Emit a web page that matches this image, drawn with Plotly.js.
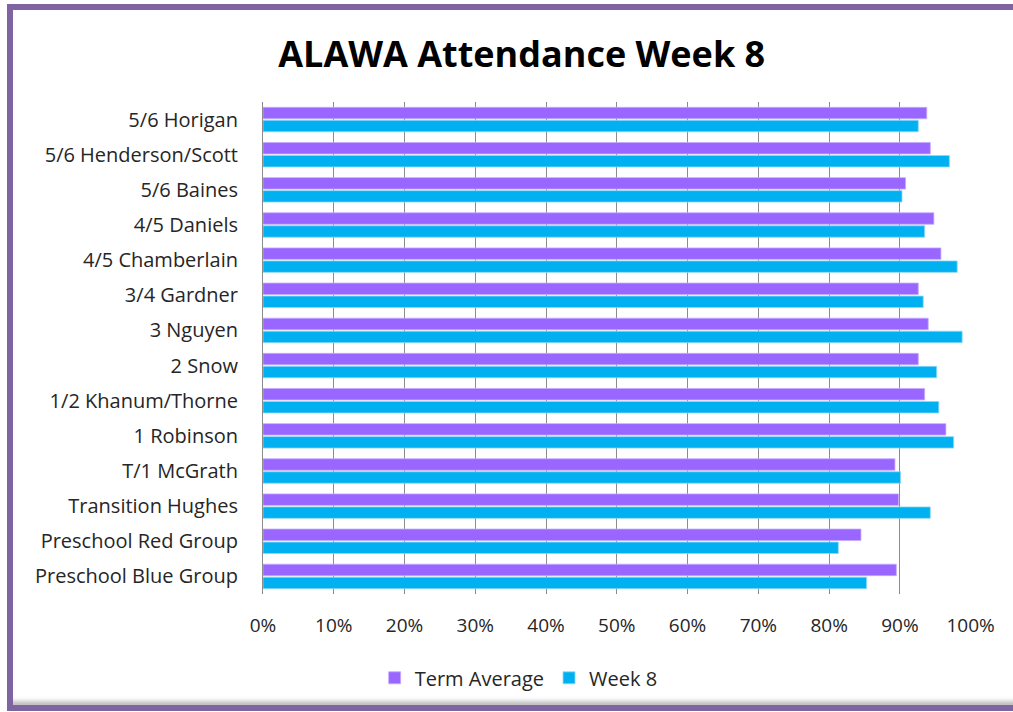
<!DOCTYPE html>
<html>
<head>
<meta charset="utf-8">
<script src="https://cdn.plot.ly/plotly-3.0.1.min.js"></script>
<style>
  html, body { margin: 0; padding: 0; background: #ffffff; overflow: hidden; }
  #chart { position: absolute; left: 0; top: 0; width: 1013px; height: 712px; }
  #frame { position: absolute; left: 7px; top: 4px; width: 1020px; height: 695px;
           border: 6px solid #8064A2; border-right: none; pointer-events: none;
           box-shadow: inset -3px -4px 4px rgba(0,0,0,0.25); }
</style>
</head>
<body>
<div id="chart"></div>
<div id="frame"></div>
<script>
const categories = ["5/6 Horigan","5/6 Henderson/Scott","5/6 Baines","4/5 Daniels","4/5 Chamberlain","3/4 Gardner","3 Nguyen","2 Snow","1/2 Khanum/Thorne","1 Robinson","T/1 McGrath","Transition Hughes","Preschool Red Group","Preschool Blue Group"];
const termAverage = [0.938,0.943,0.908,0.948,0.958,0.926,0.940,0.926,0.935,0.965,0.893,0.898,0.845,0.895];
const week8 = [0.926,0.970,0.903,0.935,0.981,0.933,0.988,0.952,0.955,0.976,0.901,0.943,0.813,0.853];
const xTicks = [0,0.1,0.2,0.3,0.4,0.5,0.6,0.7,0.8,0.9,1.0];
const xTickText = ["0%","10%","20%","30%","40%","50%","60%","70%","80%","90%","100%"];

const font = "Open Sans, Liberation Sans, sans-serif";
const traces = [
  { type: "bar", orientation: "h", name: "Term Average", y: categories, x: termAverage,
    marker: { color: "#9966FF", line: { color: "#C4AAFF", width: 0.8 } }, hoverinfo: "x+y" },
  { type: "bar", orientation: "h", name: "Week 8", y: categories, x: week8,
    marker: { color: "#00B0F0", line: { color: "#8FD8F8", width: 0.8 } }, hoverinfo: "x+y" }
];

const layout = {
  width: 1013, height: 712,
  paper_bgcolor: "#ffffff", plot_bgcolor: "#ffffff",
  margin: { l: 263, r: 42, t: 102, b: 118 },
  barmode: "group", bargap: 0.26, bargroupgap: 0.12,
  title: { text: "<b>ALAWA Attendance Week 8</b>", xref: "container", yref: "container",
           x: 0.515, xanchor: "center", y: 0.924, yanchor: "middle",
           font: { family: font, size: 36, color: "#000000" } },
  xaxis: { range: [0, 1.0005], tickvals: xTicks, ticktext: xTickText,
           showgrid: true, gridcolor: "#8c8c8c", gridwidth: 1, zeroline: false,
           showline: false, ticks: "", ticklabelstandoff: 18,
           tickfont: { family: font, size: 19, color: "#262626" } },
  yaxis: { autorange: "reversed", type: "category", showgrid: false, zeroline: false,
           showline: true, linecolor: "#8c8c8c", linewidth: 1, ticks: "",
           ticklabelstandoff: 20,
           tickfont: { family: font, size: 20, color: "#262626" } },
  showlegend: true,
  legend: { orientation: "h", xref: "container", yref: "container",
            x: 0.512, xanchor: "center", y: 0.048, yanchor: "middle", itemwidth: 30,
            font: { family: font, size: 20, color: "#262626" }, traceorder: "normal" }
};

Plotly.newPlot("chart", traces, layout, { displayModeBar: false, staticPlot: true });
</script>
</body>
</html>
